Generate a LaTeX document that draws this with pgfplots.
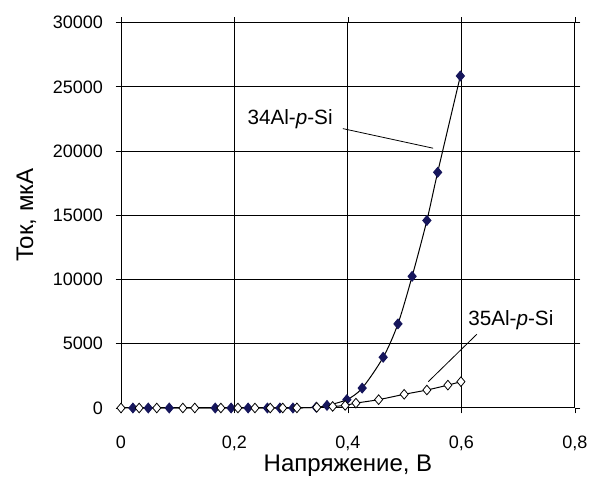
\documentclass[border=0pt]{standalone}
\usepackage{pgfplots}
\pgfplotsset{compat=1.18}
\usepackage{fontspec}
\setmainfont{Liberation Sans}
\definecolor{navy}{RGB}{22,22,92}
\begin{document}
\begin{tikzpicture}[x=1pt,y=1pt]
\begin{axis}[
  at={(90.75pt,57pt)}, anchor=south west,
  scale only axis, width=340.5pt, height=289pt,
  xmin=0, xmax=0.8, ymin=0, ymax=30000,
  scaled y ticks=false, scaled x ticks=false,
  xtick={0,0.2,0.4,0.6,0.8},
  xticklabels={0,{0,2},{0,4},{0,6},{0,8}},
  ytick={0,5000,10000,15000,20000,25000,30000},
  yticklabels={0,5000,10000,15000,20000,25000,30000},
  tick align=outside, major tick length=4pt,
  tick style={black, line width=0.7pt},
  grid=major, major grid style={black, line width=0.75pt},
  axis line style={black, line width=0.75pt},
  ticklabel style={font=\fontsize{13.5}{15}\selectfont},
  xticklabel style={yshift=-13.5pt},
  yticklabel style={xshift=-6pt},
  xlabel={Напряжение, В}, ylabel={Ток, мкА},
  every axis x label/.style={at={(axis description cs:0.5,0)}, anchor=center, yshift=-43.5pt, font=\fontsize{18}{20}\selectfont},
  every axis y label/.style={at={(axis description cs:0,0.5)}, anchor=center, rotate=90, yshift=71pt, font=\fontsize{18}{20}\selectfont},
  clip=false,
]
\addplot[black, line width=0.75pt, smooth, mark=diamond*, mark size=3.6pt, mark options={fill=navy, draw=navy, xscale=1.12}] coordinates {
(0.021,0) (0.048,0) (0.085,0) (0.166,0) (0.194,0) (0.224,0) (0.258,0) (0.28,0) (0.303,0)
(0.344,60) (0.363,200) (0.398,650) (0.425,1550) (0.462,3950) (0.488,6550) (0.513,10250)
(0.539,14600) (0.558,18350) (0.598,25850)
};
\addplot[black, line width=0.75pt, smooth, mark=diamond*, mark size=3.6pt, mark options={fill=white, draw=black, line width=0.6pt, xscale=1.12}] coordinates {
(0,0) (0.032,0) (0.063,0) (0.109,0) (0.13,0) (0.176,0) (0.206,0) (0.236,0) (0.263,0) (0.285,0)
(0.31,10) (0.345,50) (0.373,120) (0.395,200) (0.414,380) (0.454,650) (0.499,1065) (0.539,1400)
(0.576,1780) (0.599,2050)
};
\draw[black, line width=0.6pt] (axis cs:0.391,21750) -- (axis cs:0.550,20225);
\draw[black, line width=0.6pt] (axis cs:0.627,5740) -- (axis cs:0.5415,2050);
\node[font=\fontsize{15.5}{17}\selectfont, inner sep=0pt] at (axis cs:0.298,22500) {34Al-\textit{p}-Si};
\node[font=\fontsize{15.5}{17}\selectfont, inner sep=0pt] at (axis cs:0.687,6850) {35Al-\textit{p}-Si};
\end{axis}
\pgfresetboundingbox
\useasboundingbox (0,0) rectangle (444pt,363pt);
\end{tikzpicture}
\end{document}
